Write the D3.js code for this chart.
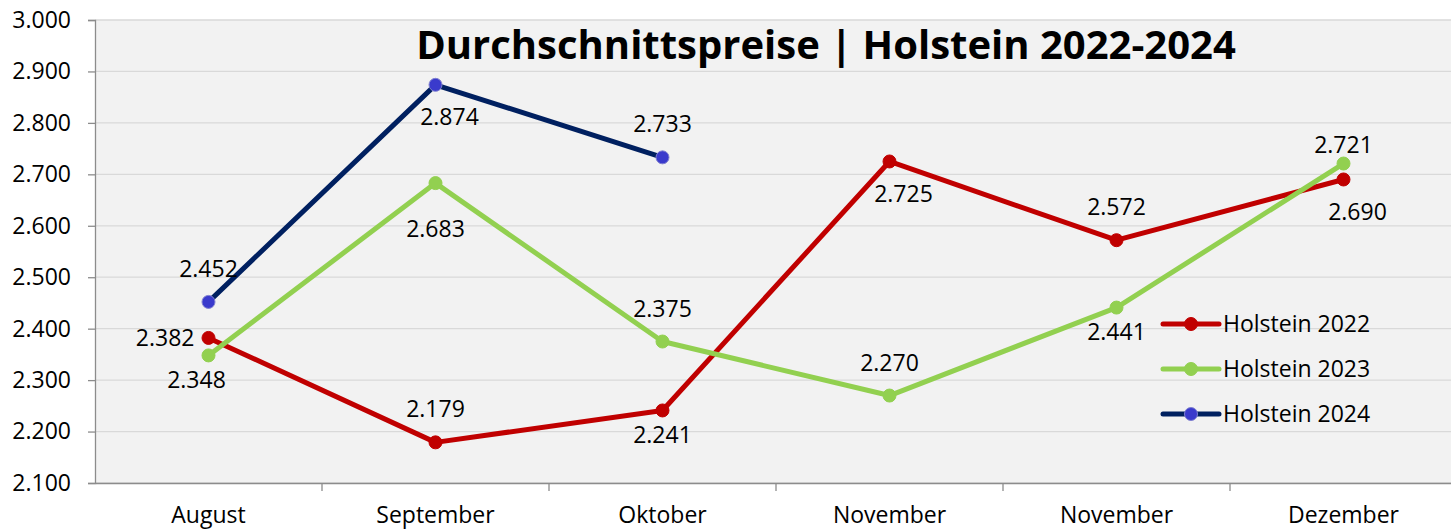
<!DOCTYPE html>
<html>
<head>
<meta charset="utf-8">
<script src="https://cdn.jsdelivr.net/npm/d3@7"></script>
<style>
  body { margin: 0; background: #fff; }
  text { font-family: "Open Sans", sans-serif; }
</style>
</head>
<body>
<svg id="chart" width="1451" height="530"></svg>
<script>
const months = ["August", "September", "Oktober", "November", "November", "Dezember"];
const yTicks = [2.1, 2.2, 2.3, 2.4, 2.5, 2.6, 2.7, 2.8, 2.9, 3.0];

const holstein2022 = [2.382, 2.179, 2.241, 2.725, 2.572, 2.690];
const holstein2023 = [2.348, 2.683, 2.375, 2.270, 2.441, 2.721];
const holstein2024 = [2.452, 2.874, 2.733];

// where excel put each data label
const place2022 = ["left", "above", "below", "belowRight", "above", "belowRight"];
const place2023 = ["belowLeft", "belowFar", "above", "above", "below", "aboveNear"];
const place2024 = ["above", "belowRight", "above"];

const series = [
  { name: "Holstein 2022", values: holstein2022, place: place2022, line: "#c00000", dot: "#c00000", dotStroke: "#c00000" },
  { name: "Holstein 2023", values: holstein2023, place: place2023, line: "#92d050", dot: "#92d050", dotStroke: "#92d050" },
  { name: "Holstein 2024", values: holstein2024, place: place2024, line: "#002060", dot: "#3a3acc", dotStroke: "#8080d0" }
];

const labelShift = {
  left: [-14, 0, "end"],
  above: [0, -33, "middle"],
  aboveNear: [0, -19, "middle"],
  below: [0, 24, "middle"],
  belowFar: [0, 46, "middle"],
  belowLeft: [-12, 25, "middle"],
  belowRight: [14, 32, "middle"]
};

const svg = d3.select("#chart");
const margin = { top: 20, right: -6, bottom: 47, left: 95 };
const width = +svg.attr("width");
const height = +svg.attr("height");
const innerWidth = width - margin.left - margin.right;
const innerHeight = height - margin.top - margin.bottom;
const fontSize = 23;

const x = d3.scaleBand().domain(d3.range(months.length)).range([0, innerWidth]);
const y = d3.scaleLinear().domain([2.1, 3.0]).range([innerHeight, 0]);
const fmt = d3.format(".3f");

const g = svg.append("g").attr("transform", `translate(${margin.left},${margin.top})`);

g.append("rect")
  .attr("width", innerWidth)
  .attr("height", innerHeight)
  .attr("fill", "#f2f2f2");

//grid
g.selectAll("line.grid")
  .data(yTicks)
  .join("line")
  .attr("class", "grid")
  .attr("x1", 0).attr("x2", innerWidth)
  .attr("y1", d => y(d)).attr("y2", d => y(d))
  .attr("stroke", "#d9d9d9")
  .attr("stroke-width", 1.3);

//y axis
const yAxis = g.append("g")
  .call(d3.axisLeft(y).tickValues(yTicks).tickFormat(fmt).tickSize(7).tickPadding(17));
yAxis.select(".domain").attr("stroke", "#8c8c8c").attr("stroke-width", 1.3);
yAxis.selectAll(".tick line").attr("stroke", "#8c8c8c").attr("stroke-width", 1.3);
yAxis.selectAll("text").attr("font-size", fontSize).attr("fill", "#000").attr("font-family", "Open Sans");

//x axis
const xAxis = g.append("g")
  .attr("transform", `translate(0,${innerHeight})`)
  .call(d3.axisBottom(x).tickFormat(i => months[i]).tickSize(0).tickPadding(24));
xAxis.select(".domain").attr("stroke", "#8c8c8c").attr("stroke-width", 1.5);
xAxis.selectAll("text").attr("font-size", fontSize).attr("fill", "#000").attr("font-family", "Open Sans");
g.append("g")
  .selectAll("line")
  .data(d3.range(1, months.length))
  .join("line")
  .attr("x1", i => x(i)).attr("x2", i => x(i))
  .attr("y1", innerHeight).attr("y2", innerHeight + 8)
  .attr("stroke", "#8c8c8c")
  .attr("stroke-width", 1.3);

const cx = i => x(i) + x.bandwidth() / 2;
const line = d3.line().x((d, i) => cx(i)).y(d => y(d));

series.forEach(s => {
  g.append("path")
    .datum(s.values)
    .attr("d", line)
    .attr("fill", "none")
    .attr("stroke", s.line)
    .attr("stroke-width", 5)
    .attr("stroke-linejoin", "round");

  g.selectAll(null)
    .data(s.values)
    .join("circle")
    .attr("cx", (d, i) => cx(i))
    .attr("cy", d => y(d))
    .attr("r", 6.5)
    .attr("fill", s.dot)
    .attr("stroke", s.dotStroke)
    .attr("stroke-width", 1);

  g.selectAll(null)
    .data(s.values)
    .join("text")
    .attr("x", (d, i) => cx(i) + labelShift[s.place[i]][0])
    .attr("y", (d, i) => y(d) + labelShift[s.place[i]][1])
    .attr("dy", "0.35em")
    .attr("text-anchor", (d, i) => labelShift[s.place[i]][2])
    .attr("font-size", fontSize)
    .attr("fill", "#000")
    .text(d => fmt(d));
});

//legend
const legend = g.append("g").attr("transform", `translate(${1163 - margin.left},0)`);
series.forEach((s, i) => {
  const ly = 304 + i * 45;
  legend.append("line")
    .attr("x1", 0).attr("x2", 56)
    .attr("y1", ly).attr("y2", ly)
    .attr("stroke", s.line)
    .attr("stroke-width", 5)
    .attr("stroke-linecap", "round");
  legend.append("circle")
    .attr("cx", 28).attr("cy", ly).attr("r", 6.5)
    .attr("fill", s.dot).attr("stroke", s.dotStroke);
  legend.append("text")
    .attr("x", 60).attr("y", ly)
    .attr("dy", "0.35em")
    .attr("font-size", fontSize)
    .attr("fill", "#000")
    .text(s.name);
});

//title
svg.append("text")
  .attr("x", 826)
  .attr("y", 45)
  .attr("dy", "0.35em")
  .attr("text-anchor", "middle")
  .attr("font-size", 40)
  .attr("font-weight", "bold")
  .attr("fill", "#000")
  .text("Durchschnittspreise | Holstein 2022-2024");
</script>
</body>
</html>
